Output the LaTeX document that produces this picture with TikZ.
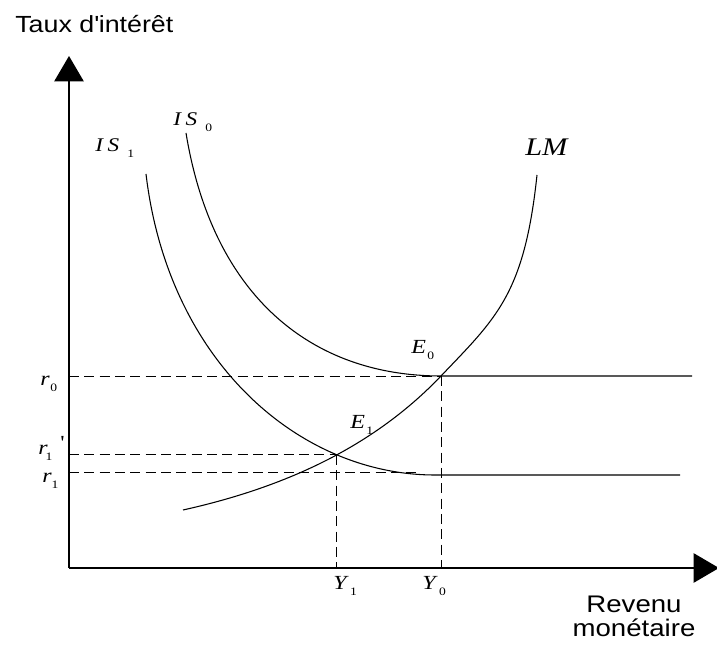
\documentclass[tikz,border=0pt]{standalone}
\usepackage{fontspec}
\setmainfont{Liberation Serif}
\newfontfamily\axisfont[FakeStretch=1.15]{Liberation Sans}
\newfontfamily\labfont[FakeStretch=1.2]{Liberation Serif}
\usetikzlibrary{arrows.meta,intersections}

\newcommand{\sublab}[3]{\textit{#1}\hspace{#3}\raisebox{-4pt}{\fontsize{8.5}{8.5}\selectfont\upshape #2}}

\tikzset{
  axis/.style={line width=1pt,-{Triangle[width=22pt,length=19pt]}},
  curve/.style={line width=0.8pt},
  guide/.style={line width=0.7pt,dash pattern=on 7.5pt off 4pt},
  lab/.style={anchor=base west,inner sep=0pt,font=\labfont\fontsize{15}{15}\selectfont},
  title/.style={inner sep=0pt,align=center}
}

\begin{document}
\begin{tikzpicture}[x=0.75pt,y=0.75pt]
\useasboundingbox (0,0) rectangle (717,645);
% axes
\coordinate (O) at (69,77);
\coordinate (ytip) at (69,589);
\coordinate (xtip) at (719,77);
\draw[axis] (O) -- (ytip);
\draw[axis] (O) -- (xtip);
\node[title,anchor=base west,font=\axisfont\fontsize{17.5}{19}\selectfont] (ytitle) at (15,612) {Taux d\textquotesingle int\'er\^et};
\node[title,anchor=base,font=\axisfont\fontsize{18}{18}\selectfont] (xtitle) at (634,8) {Revenu\\mon\'etaire};
% curves
\coordinate (E0) at (441,269);
\coordinate (r1end) at (421,173);
\draw[curve,name path=LM] (183,135) .. controls (282,157) and (372,196.6) .. (E0)
  .. controls (496.2,326.9) and (524.4,350.7) .. (537,470);
\draw[curve] (186,512) .. controls (212.7,349.1) and (311,269) .. (E0) -- (692,269);
\draw[curve,name path=IS1] (146,471) .. controls (168.4,282.3) and (300,170) .. (435,170) -- (680,170);
\path[name intersections={of=LM and IS1,by=E1}];
% dashed guides
\draw[guide] (O |- E0) -- (E0);
\draw[guide] (O |- E1) -- (E1);
\draw[guide] (O |- r1end) -- (r1end);
\draw[guide] (E1) -- (E1 |- O);
\draw[guide] (E0) -- (E0 |- O);
% labels
\node[lab,font=\labfont\fontsize{14.5}{14.5}\selectfont] (IS0) at (173,519) {\sublab{I\hspace{3.5pt}S}{0}{6pt}};
\node[lab,font=\labfont\fontsize{14.5}{14.5}\selectfont] (IS1) at (95,493) {\sublab{I\hspace{3.5pt}S}{1}{6pt}};
\node[lab,font=\labfont\fontsize{19}{19}\selectfont] (LM) at (525,489) {\textit{LM}};
\node[lab] (E0lab) at (411,291) {\sublab{E}{0}{1pt}};
\node[lab] (E1lab) at (350,216) {\sublab{E}{1}{1pt}};
\node[lab] (r0) at (40,259) {\sublab{r}{0}{0.5pt}};
\node[lab] (r1p) at (38,190) {\sublab{r}{1}{-1.5pt}\hspace{6pt}\raisebox{4pt}{\upshape\textquotesingle}};
\node[lab] (r1) at (42,162) {\sublab{r}{1}{0pt}};
\node[lab] (Y1) at (333,55) {\sublab{Y}{1}{1pt}};
\node[lab] (Y0) at (422,55) {\sublab{Y}{0}{1pt}};
\end{tikzpicture}
\end{document}
